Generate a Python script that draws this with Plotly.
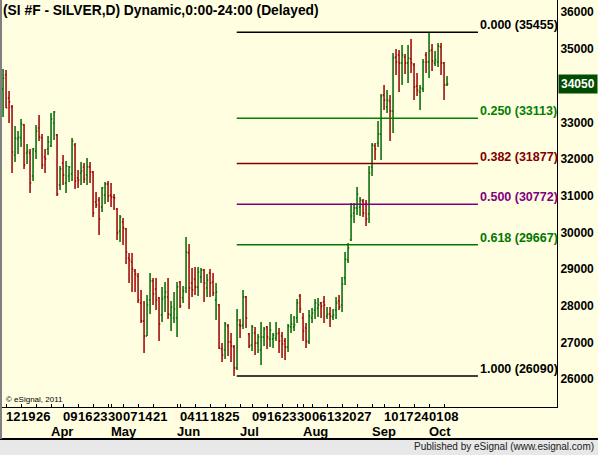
import pandas as pd
import plotly.graph_objects as go

# trading days shown (COMEX holidays removed)
HOLIDAYS = ["2012-04-06", "2012-05-28", "2012-07-04", "2012-09-03"]
dates = [d for d in pd.bdate_range("2012-03-09", "2012-10-09")
         if d.strftime("%Y-%m-%d") not in HOLIDAYS]
date_str = [d.strftime("%Y-%m-%d") for d in dates]
idx = list(range(len(dates)))

opens = [33910, 34291, 33665, 33419, 32111, 32547, 32575, 32929, 32166, 32166,
         31539, 32220, 32847, 32575, 32057, 32275, 32357, 32983, 32656, 31294,
         31893, 31348, 31539, 31594, 32384, 31485, 31621, 31784, 31566, 31784,
         31648, 30831, 30885, 30694, 31021, 31321, 31021, 30967, 30640, 30040,
         30286, 30095, 29305, 29196, 28950, 28814, 28078, 27588, 27179, 28160,
         28678, 28460, 28215, 27751, 28242, 28242, 27751, 27670, 27670, 28651,
         28215, 28487, 29441, 28623, 28732, 28514, 28787, 28978, 28487, 28896,
         28651, 28160, 28024, 26825, 26798, 27452, 27016, 26879, 26307, 27479,
         27479, 28242, 27234, 26934, 27261, 26988, 26798, 27152, 27424, 27097,
         27097, 27125, 27261, 27179, 27043, 26879, 27424, 27424, 27670, 28269,
         27670, 27397, 27016, 27670, 27888, 27942, 28078, 28106, 27724, 27779,
         27697, 27888, 28133, 28024, 28760, 29250, 29795, 30531, 30667, 30694,
         30858, 30776, 30504, 31784, 32357, 32438, 32684, 33746, 33419, 33583,
         33310, 34782, 34836, 34618, 34782, 34618, 34727, 34564, 33992, 33828,
         33910, 34836, 34645, 34972, 34618, 34645, 35054, 34618, 34019]

highs = [34455, 34428, 33855, 33474, 32902, 32765, 33092, 32956, 32411, 32275,
         32302, 32929, 33201, 32684, 32275, 32629, 33256, 33310, 32684, 31812,
         32111, 31948, 31812, 32575, 32438, 31702, 31920, 31893, 32029, 31920,
         31675, 31103, 30967, 31239, 31376, 31403, 31348, 31049, 30667, 30476,
         30395, 30122, 29441, 29441, 29005, 28896, 28433, 28133, 28296, 28896,
         28760, 28760, 28242, 28514, 28651, 28760, 28133, 28378, 28651, 28678,
         28542, 29877, 29686, 29032, 29059, 29059, 29032, 29005, 28869, 29005,
         28896, 28623, 28051, 26988, 27560, 27506, 27261, 26934, 27915, 27642,
         28433, 28269, 27261, 27479, 27424, 27234, 27560, 27424, 27452, 27560,
         27261, 27560, 27397, 27288, 27125, 27506, 27779, 27724, 28187, 28324,
         27806, 27533, 27888, 27942, 28187, 28215, 28106, 28269, 27969, 27969,
         27915, 28242, 28296, 28787, 29468, 29713, 30803, 30803, 31239, 30967,
         30912, 30885, 31812, 32438, 32438, 33038, 33773, 34019, 33882, 33746,
         34891, 35000, 34972, 35109, 34864, 35109, 35272, 34618, 34346, 34019,
         34727, 34918, 35455, 35136, 34945, 35163, 35163, 34645, 34264]

lows = [33147, 33392, 32983, 31621, 31920, 32139, 32329, 31730, 31866, 31076,
        31403, 32002, 32493, 31730, 31621, 32111, 32329, 32520, 30994, 31158,
        31294, 31076, 31376, 31403, 31185, 31212, 31294, 31348, 31294, 31348,
        30422, 30667, 29931, 30558, 30776, 30831, 30694, 30613, 29795, 29741,
        29659, 29141, 28623, 28378, 28378, 28078, 27533, 26716, 27179, 27779,
        28024, 27888, 27043, 27560, 27833, 27642, 27315, 27533, 27152, 27942,
        28078, 28351, 27915, 28242, 28296, 28269, 28623, 28106, 28242, 28242,
        28269, 27615, 26825, 26470, 26552, 26634, 26470, 26090, 26253, 27125,
        27370, 27397, 26852, 26770, 26661, 26716, 26389, 26907, 26825, 26879,
        26852, 27043, 26716, 26580, 26525, 26743, 27261, 27315, 27533, 27806,
        27043, 26852, 26961, 27533, 27642, 27697, 27670, 27533, 27642, 27424,
        27615, 27642, 27888, 27833, 28569, 29168, 29768, 30258, 30476, 30449,
        30422, 30177, 30258, 31539, 31975, 32329, 31975, 33338, 33256, 32493,
        32711, 34291, 33828, 34019, 34319, 34073, 34346, 33610, 33719, 33338,
        33828, 34346, 34210, 34400, 34536, 34509, 34291, 33610, 33992]

closes = [34210, 33400, 33555, 32193, 32575, 32602, 32956, 31839, 32220, 31348,
          32275, 32765, 32602, 31839, 32002, 32465, 33092, 33283, 31049, 31730,
          31566, 31812, 31784, 32493, 31403, 31430, 31675, 31457, 31784, 31648,
          30531, 30749, 30367, 31212, 31321, 30994, 30967, 30940, 29986, 30422,
          30122, 29468, 29250, 29005, 28869, 28160, 27588, 27179, 28024, 28678,
          28324, 28160, 27506, 28187, 28378, 27779, 27969, 27915, 28514, 27997,
          28405, 29468, 28487, 28433, 28514, 28923, 28978, 28623, 28705, 28623,
          28351, 28378, 26852, 26661, 27506, 27016, 26907, 26307, 27615, 27452,
          28242, 27670, 26907, 27424, 26988, 27152, 27152, 27370, 27152, 27343,
          27206, 27234, 27043, 26961, 26879, 27452, 27506, 27479, 28078, 27915,
          27315, 27043, 27724, 27806, 28078, 28024, 27997, 28024, 27779, 27724,
          27751, 28078, 27969, 28596, 29278, 29577, 30449, 30667, 31049, 30885,
          30531, 30367, 31621, 32384, 32275, 32684, 33719, 33610, 33610, 33310,
          34754, 34645, 34618, 34836, 34618, 34754, 34618, 33964, 33882, 33937,
          34645, 34645, 34945, 34673, 34700, 35082, 34618, 34019, 34050]

# Fibonacci retracement between the swing low and high
FIB_HIGH = 35455
FIB_LOW = 26090
fib_ratios = [0.0, 0.25, 0.382, 0.5, 0.618, 1.0]
fib_colors = ["#000000", "#008000", "#800000", "#800080", "#007800", "#000000"]

# price axis labels (34000 is covered by the last-price box)
price_ticks = [26000, 27000, 28000, 29000, 30000, 31000, 32000, 33000, 35000, 36000]

day_ticks = ["2012-03-12", "2012-03-19", "2012-03-26",
             "2012-04-09", "2012-04-16", "2012-04-23", "2012-04-30",
             "2012-05-07", "2012-05-14", "2012-05-21",
             "2012-06-04", "2012-06-11", "2012-06-18", "2012-06-25",
             "2012-07-09", "2012-07-16", "2012-07-23", "2012-07-30",
             "2012-08-06", "2012-08-13", "2012-08-20", "2012-08-27",
             "2012-09-10", "2012-09-17", "2012-09-24",
             "2012-10-01", "2012-10-08"]
month_ticks = ["2012-04-02", "2012-05-01", "2012-06-01", "2012-07-02",
               "2012-08-01", "2012-09-04", "2012-10-01"]
month_names = ["Apr", "May", "Jun", "Jul", "Aug", "Sep", "Oct"]

BG = "#FFFEE0"
FONT = "Liberation Sans, Arial, sans-serif"
W, H = 598, 455
L_M, R_M, T_M, B_M = 2, 41, 0, 48
PW, PH = W - L_M - R_M, H - T_M - B_M


def px_x(p):
    return (p - L_M) / PW


def px_y(p):
    return 1 - (p - T_M) / PH


fig = go.Figure()
fig.add_trace(go.Ohlc(
    x=idx, open=opens, high=highs, low=lows, close=closes,
    increasing_line_color="#006600", decreasing_line_color="#990000",
    line_width=1.5, tickwidth=0.4, hoverinfo="skip", showlegend=False,
))

FIB_X0, FIB_X1 = 77.9, 158.3
annotations = []
for r, c in zip(fib_ratios, fib_colors):
    level = FIB_HIGH - r * (FIB_HIGH - FIB_LOW)
    fig.add_trace(go.Scatter(
        x=[FIB_X0, FIB_X1], y=[level, level], mode="lines",
        line=dict(color=c, width=1.5), hoverinfo="skip", showlegend=False,
    ))
    annotations.append(dict(
        x=FIB_X1, y=level, xref="x", yref="y", xanchor="left", yanchor="bottom",
        text=f"<b>{r:.3f} ({int(level)})</b>", showarrow=False,
        font=dict(size=12.5, color=c, family=FONT), borderpad=0, xshift=1, yshift=-1,
    ))

pos = {d: i for i, d in enumerate(date_str)}
for d in day_ticks:
    annotations.append(dict(
        x=pos[d], y=px_y(416), xref="x", yref="paper", xanchor="left", yanchor="middle",
        text=f"<b>{d[-2:]}</b>", showarrow=False, borderpad=0,
        font=dict(size=13, color="#000000", family=FONT), xshift=-1,
    ))
for d, m in zip(month_ticks, month_names):
    annotations.append(dict(
        x=pos[d], y=px_y(432), xref="x", yref="paper", xanchor="left", yanchor="middle",
        text=f"<b>{m}</b>", showarrow=False, borderpad=0,
        font=dict(size=13, color="#000000", family=FONT), xshift=-1,
    ))

# title, last-price box and credits
annotations += [
    dict(x=px_x(2), y=px_y(11), xref="paper", yref="paper", xanchor="left", yanchor="middle",
         text="<b>(SI #F - SILVER,D) Dynamic,0:00-24:00 (Delayed)</b>", showarrow=False,
         font=dict(size=13.8, color="#000000", family=FONT), borderpad=0),
    dict(x=1, y=closes[-1], xref="paper", yref="y", xanchor="left", yanchor="middle",
         text=f"<b>{closes[-1]}</b>", showarrow=False, bgcolor="#004C00",
         font=dict(size=12, color="#FFFFFF", family=FONT), borderpad=2, xshift=1),
    dict(x=px_x(5), y=px_y(399), xref="paper", yref="paper", xanchor="left", yanchor="middle",
         text="© eSignal, 2011", showarrow=False,
         font=dict(size=8, color="#000000", family=FONT), borderpad=0),
    dict(x=px_x(595), y=px_y(447), xref="paper", yref="paper", xanchor="right", yanchor="middle",
         text="Published by eSignal (www.esignal.com)", showarrow=False,
         font=dict(size=10, color="#202020", family=FONT), borderpad=0),
]

shapes = [
    dict(type="rect", xref="paper", yref="paper", x0=px_x(0), x1=px_x(W), y0=px_y(439),
         y1=px_y(H + 2), fillcolor="#E8E8E8", line=dict(width=0), layer="below"),
    dict(type="line", xref="paper", yref="paper", x0=px_x(0), x1=px_x(W), y0=px_y(439),
         y1=px_y(439), line=dict(color="#000000", width=2)),
    dict(type="line", xref="paper", yref="paper", x0=px_x(1), x1=px_x(1), y0=px_y(0),
         y1=px_y(439), line=dict(color="#808080", width=2)),
]

fig.update_layout(
    width=W, height=H,
    margin=dict(l=L_M, r=R_M, t=T_M, b=B_M),
    paper_bgcolor=BG, plot_bgcolor=BG,
    font=dict(family=FONT, color="#000000"),
    annotations=annotations, shapes=shapes,
    showlegend=False,
)
fig.update_xaxes(
    range=[-0.35, -0.35 + PW / 3], rangeslider_visible=False,
    showgrid=False, zeroline=False, showline=True, linecolor="#000000", linewidth=1,
    tickvals=[pos[d] for d in day_ticks + month_ticks], showticklabels=False,
    ticks="inside", ticklen=3, tickcolor="#000000",
)
fig.update_yaxes(
    range=[36335 - 27.25 * PH, 36335], side="right",
    showgrid=False, zeroline=False, showline=True, linecolor="#000000", linewidth=1,
    tickvals=price_ticks, tickformat="d", ticks="",
    tickfont=dict(size=12, color="#000000", family=FONT, weight="bold"),
)

# page body has a default 8px margin; drop it so the figure fills the window
fig.write_html("out.html", config={"displayModeBar": False},
               post_script="document.body.style.margin='0';")
